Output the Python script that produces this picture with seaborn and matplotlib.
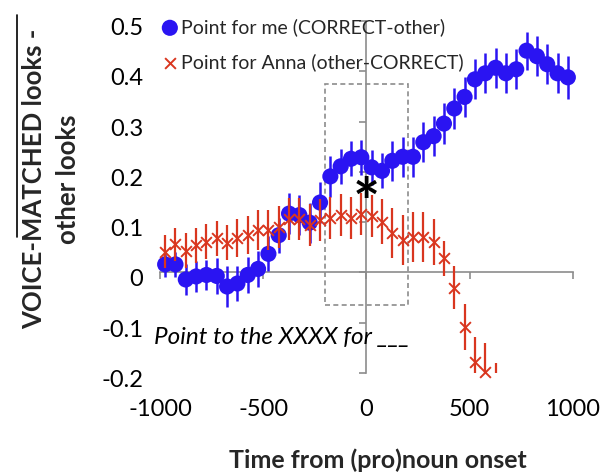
import numpy as np
import pandas as pd
import seaborn as sns
import matplotlib.pyplot as plt
import matplotlib.transforms as mtransforms
from matplotlib.patches import Rectangle
from matplotlib.lines import Line2D

"""Looks to the voice-matched picture minus other looks, by time from (pro)noun onset"""

# 50 ms bins, centres
time_me = [-975, -925, -875, -825, -775, -725, -675, -625, -575, -525,
           -475, -425, -375, -325, -275, -225, -175, -125, -75, -25,
           25, 75, 125, 175, 225, 275, 325, 375, 425, 475,
           525, 575, 625, 675, 725, 775, 825, 875, 925, 975]
me_mean = [0.016, 0.016, -0.014, -0.008, -0.005, -0.007, -0.028, -0.022, -0.005, 0.007,
           0.037, 0.074, 0.117, 0.114, 0.099, 0.139, 0.191, 0.211, 0.226, 0.229,
           0.209, 0.202, 0.222, 0.230, 0.230, 0.259, 0.271, 0.296, 0.326, 0.349,
           0.384, 0.396, 0.407, 0.396, 0.404, 0.441, 0.430, 0.414, 0.396, 0.388]
me_err = [0.025, 0.025, 0.03, 0.03, 0.03, 0.035, 0.04, 0.035, 0.035, 0.035,
          0.035, 0.035, 0.04, 0.04, 0.04, 0.04, 0.04, 0.035, 0.035, 0.035,
          0.035, 0.035, 0.04, 0.04, 0.04, 0.04, 0.04, 0.04, 0.04, 0.04,
          0.04, 0.04, 0.04, 0.04, 0.04, 0.038, 0.04, 0.04, 0.04, 0.043]

time_anna = [-975, -925, -875, -825, -775, -725, -675, -625, -575, -525,
             -475, -425, -375, -325, -275, -225, -175, -125, -75, -25,
             25, 75, 125, 175, 225, 275, 325, 375, 425, 475,
             525, 575, 625, 675]
anna_mean = [0.041, 0.056, 0.043, 0.054, 0.061, 0.068, 0.059, 0.068, 0.074, 0.085,
             0.084, 0.091, 0.106, 0.106, 0.094, 0.104, 0.108, 0.114, 0.108, 0.116,
             0.112, 0.101, 0.078, 0.064, 0.071, 0.070, 0.061, 0.028, -0.030, -0.108,
             -0.178, -0.197, -0.24, -0.27]
anna_err = [0.033, 0.033, 0.035, 0.035, 0.035, 0.035, 0.035, 0.038, 0.038, 0.04,
            0.04, 0.042, 0.042, 0.042, 0.042, 0.042, 0.042, 0.042, 0.042, 0.042,
            0.042, 0.045, 0.05, 0.05, 0.05, 0.05, 0.046, 0.035, 0.043, 0.046,
            0.05, 0.056, 0.06, 0.07]

x_ticks = [-1000, -500, 0, 500, 1000]
y_ticks = [-0.2, -0.1, 0, 0.1, 0.2, 0.3, 0.4, 0.5]
y_tick_labels = ['-0.2', '-0.1', '0', '0.1', '0.2', '0.3', '0.4', '0.5']

label_me = 'Point for me (CORRECT-other)'
label_anna = 'Point for Anna (other-CORRECT)'

BLUE = '#2a14f2'
RED = '#d9361f'
GREY = '#8c8c8c'

sns.set_style('white')
plt.rcParams['font.family'] = ['Lato', 'DejaVu Sans']
plt.rcParams['axes.unicode_minus'] = False

df_me = pd.DataFrame({'time': time_me, 'diff': me_mean, 'err': me_err})
df_anna = pd.DataFrame({'time': time_anna, 'diff': anna_mean, 'err': anna_err})

fig = plt.figure(figsize=(6.09, 4.75), dpi=100)
ax = fig.add_axes([0.2627, 0.2147, 0.6782, 0.7411])
ax.set_xlim(-1000, 1000)
ax.set_ylim(-0.2, 0.5)

# me series
ax.errorbar(df_me['time'], df_me['diff'], yerr=df_me['err'], fmt='none',
            ecolor=BLUE, elinewidth=1.8, capsize=0, zorder=2, clip_on=False)
sns.scatterplot(data=df_me, x='time', y='diff', color=BLUE, marker='o', s=135,
                edgecolor='none', zorder=3, clip_on=False, label=label_me, ax=ax)

# anna series (markers below the axis floor are not shown, bars are clipped)
ax.errorbar(df_anna['time'], df_anna['diff'], yerr=df_anna['err'], fmt='none',
            ecolor=RED, elinewidth=1.6, capsize=0, zorder=4)
shown = df_anna[df_anna['diff'] >= -0.2]
sns.scatterplot(data=shown, x='time', y='diff', color=RED, marker='x', s=60,
                linewidth=1.4, zorder=5, clip_on=False, label=label_anna, ax=ax)

# main axes: labels only
for s in ax.spines.values():
    s.set_visible(False)
ax.set_xticks(x_ticks)
ax.set_yticks(y_ticks)
ax.set_yticklabels(y_tick_labels)
ax.tick_params(axis='both', length=0, labelsize=17, colors='black')
ax.tick_params(axis='x', pad=19)
ax.tick_params(axis='y', pad=12)
shift = mtransforms.ScaledTranslation(0, -4 / 72, fig.dpi_scale_trans)
for lab in ax.get_yticklabels():
    lab.set_transform(lab.get_transform() + shift)

# axis lines crossing at zero
sec_x = ax.secondary_xaxis((0 - y_ticks[0]) / (y_ticks[-1] - y_ticks[0]))
sec_x.set_alignment('bottom')
sec_x.set_xticks(x_ticks)
sec_x.set_xticklabels([])
sec_x.tick_params(direction='out', length=5, width=1.2, color=GREY)
sec_x.spines['bottom'].set_color(GREY)
sec_x.spines['bottom'].set_linewidth(1.2)

sec_y = ax.secondary_yaxis((0 - x_ticks[0]) / (x_ticks[-1] - x_ticks[0]))
sec_y.set_alignment('left')
sec_y.set_yticks(y_ticks)
sec_y.set_yticklabels([])
sec_y.tick_params(direction='out', length=5, width=1.2, color=GREY)
sec_y.spines['left'].set_color(GREY)
sec_y.spines['left'].set_linewidth(1.2)

# analysis window
ax.add_patch(Rectangle((-200, -0.065), 400, 0.44, fill=False, edgecolor=GREY,
                       linestyle=(0, (3, 2)), linewidth=1.2, zorder=1))
ax.text(0, 0.095, '*', fontsize=46, fontweight='bold', ha='center', va='baseline',
        color='black', zorder=6)
ax.text(-1031, -0.13, 'Point to the XXXX for ___', fontsize=17.5, style='italic',
        ha='left', va='center', color='black', zorder=6)

ax.set_xlabel('Time from (pro)noun onset', fontsize=18, fontweight='bold')
ax.xaxis.set_label_coords(0.528, -0.215)
ax.set_ylabel('VOICE-MATCHED looks -\nother looks', fontsize=18.5, fontweight='bold',
              linespacing=1.5)
ax.yaxis.set_label_coords(-0.193, 0.551)

leg = ax.legend(loc='upper left', bbox_to_anchor=(164 / 609, (475 - 18) / 475),
                bbox_transform=fig.transFigure, frameon=False, fontsize=14,
                handlelength=0.6, handletextpad=0.25, labelspacing=0.9,
                borderpad=0, borderaxespad=0)

fig.add_artist(Line2D([17 / 609, 17 / 609], [(475 - 15) / 475, (475 - 237) / 475],
                      color='black', linewidth=1.2))

fig.savefig('out.png', dpi=100)
